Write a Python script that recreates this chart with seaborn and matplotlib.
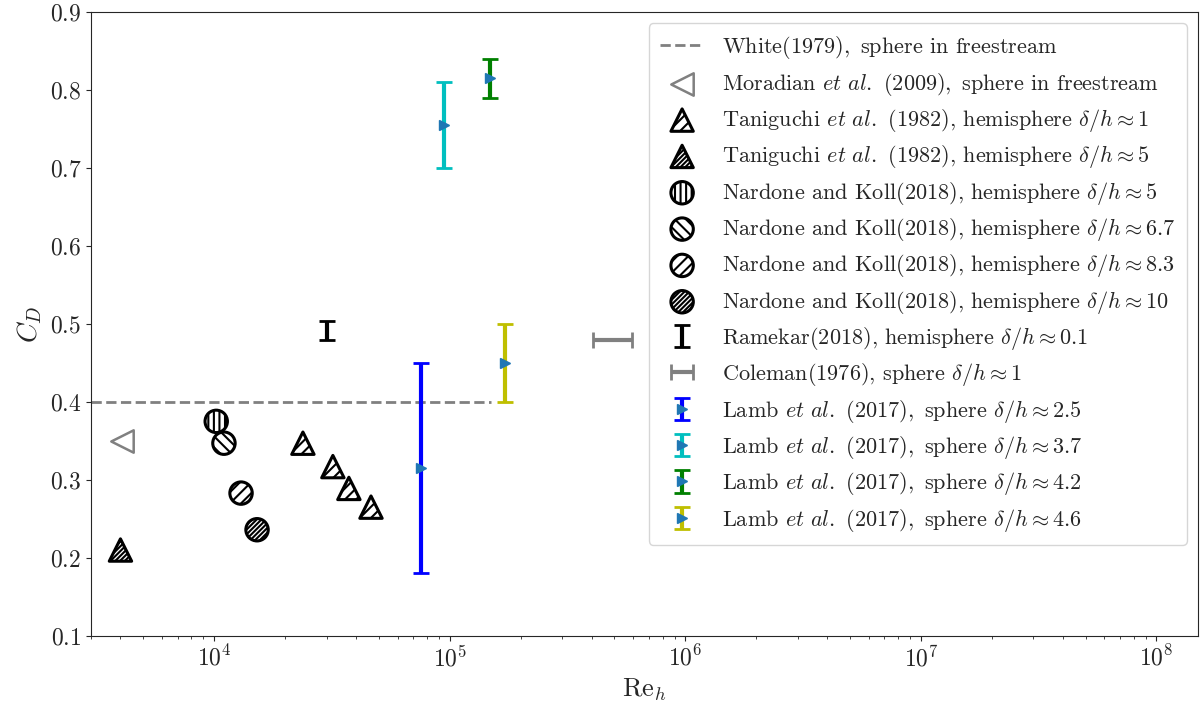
import numpy as np
import matplotlib
matplotlib.use("Agg")
import matplotlib.pyplot as plt
import seaborn as sns

# White (1979) reference line
white_x = [3000, 150000]
white_y = [0.40, 0.40]

# Moradian et al. (2009)
moradian_x = [4050]
moradian_y = [0.35]

# Taniguchi et al. (1982)
tani1_x = [23800, 31900, 37300, 46300]
tani1_y = [0.347, 0.317, 0.289, 0.265]
tani5_x = [4000]
tani5_y = [0.21]

# Nardone and Koll (2018)
nard5_x, nard5_y = [10200], [0.375]
nard67_x, nard67_y = [11000], [0.347]
nard83_x, nard83_y = [13000], [0.283]
nard10_x, nard10_y = [15200], [0.236]

# Ramekar (2018)
ramekar_x, ramekar_y, ramekar_err = [30000], [0.4915], [0.0125]

# Coleman (1976)
coleman_x, coleman_y, coleman_xerr = [5.0e5], [0.48], [0.95e5]

# Lamb et al. (2017)
lamb_dh = ["2.5", "3.7", "4.2", "4.6"]
lamb_x = [75300, 94500, 148000, 171000]
lamb_y = [0.315, 0.755, 0.815, 0.45]
lamb_lo = [0.18, 0.70, 0.79, 0.40]
lamb_hi = [0.45, 0.81, 0.84, 0.50]
lamb_colors = ["b", "c", "g", "y"]

sns.set_style("ticks")
plt.rcParams["font.family"] = ["cmr10", "DejaVu Serif"]
plt.rcParams["mathtext.fontset"] = "cm"
plt.rcParams["axes.formatter.use_mathtext"] = True
plt.rcParams["hatch.linewidth"] = 1.5
plt.rcParams["font.size"] = 16

fig, ax = plt.subplots(figsize=(12.04, 7.08), dpi=100)
fig.subplots_adjust(left=0.0756, right=0.995, top=0.983, bottom=0.102)

handles = []

sns.lineplot(x=white_x, y=white_y, ax=ax, color="gray", linestyle="--", linewidth=2,
             label=r"White(1979)$,\ $sphere in freestream", legend=False)
handles.append(ax.lines[-1])

def pts(x, y, marker, hatch, label, edge="black", lw=2.2):
    sns.scatterplot(x=x, y=y, ax=ax, marker=marker, s=260, facecolor="white",
                    edgecolor=edge, linewidth=lw, hatch=hatch, label=label, legend=False)
    handles.append(ax.collections[-1])

pts(moradian_x, moradian_y, "<", None,
    r"Moradian $et\ al.$ (2009)$,\ $sphere in freestream", edge="gray", lw=1.8)
pts(tani1_x, tani1_y, "^", "///",
    r"Taniguchi $et\ al.$ (1982), hemisphere $\delta/h\approx1$")
pts(tani5_x, tani5_y, "^", "///////",
    r"Taniguchi $et\ al.$ (1982), hemisphere $\delta/h\approx5$")
pts(nard5_x, nard5_y, "o", "|||",
    r"Nardone and Koll(2018), hemisphere $\delta/h\approx5$")
pts(nard67_x, nard67_y, "o", "\\\\\\",
    r"Nardone and Koll(2018), hemisphere $\delta/h\approx6.7$")
pts(nard83_x, nard83_y, "o", "///",
    r"Nardone and Koll(2018), hemisphere $\delta/h\approx8.3$")
pts(nard10_x, nard10_y, "o", "///////",
    r"Nardone and Koll(2018), hemisphere $\delta/h\approx10$")

eb = ax.errorbar(ramekar_x, ramekar_y, yerr=ramekar_err, fmt="none", ecolor="black",
                 elinewidth=3, capsize=6, capthick=2,
                 label=r"Ramekar(2018), hemisphere $\delta/h\approx0.1$")
handles.append(eb)
eb = ax.errorbar(coleman_x, coleman_y, xerr=coleman_xerr, fmt="none", ecolor="gray",
                 elinewidth=3, capsize=6, capthick=2,
                 label=r"Coleman(1976), sphere $\delta/h\approx1$")
handles.append(eb)

for x, y, lo, hi, c, d in zip(lamb_x, lamb_y, lamb_lo, lamb_hi, lamb_colors, lamb_dh):
    eb = ax.errorbar([x], [y], yerr=[[y - lo], [hi - y]], fmt=">", color="tab:blue",
                     markersize=7, ecolor=c, elinewidth=3, capsize=6, capthick=2,
                     label=r"Lamb $et\ al.$ (2017)$,\ $sphere $\delta/h\approx" + d + "$")
    handles.append(eb)

ax.set_xscale("log")
ax.set_xlim(3000, 1.5e8)
ax.set_ylim(0.1, 0.9)
ax.set_yticks(np.arange(0.1, 0.95, 0.1))
ax.set_xlabel(r"$\mathrm{Re}_h$", fontsize=19)
ax.set_ylabel(r"$C_D$", fontsize=20)
ax.tick_params(labelsize=17)

ax.legend(handles=handles, loc="upper right", fontsize=16, frameon=True,
          labelspacing=0.42, borderpad=0.5)

fig.savefig("out.png", dpi=100)
